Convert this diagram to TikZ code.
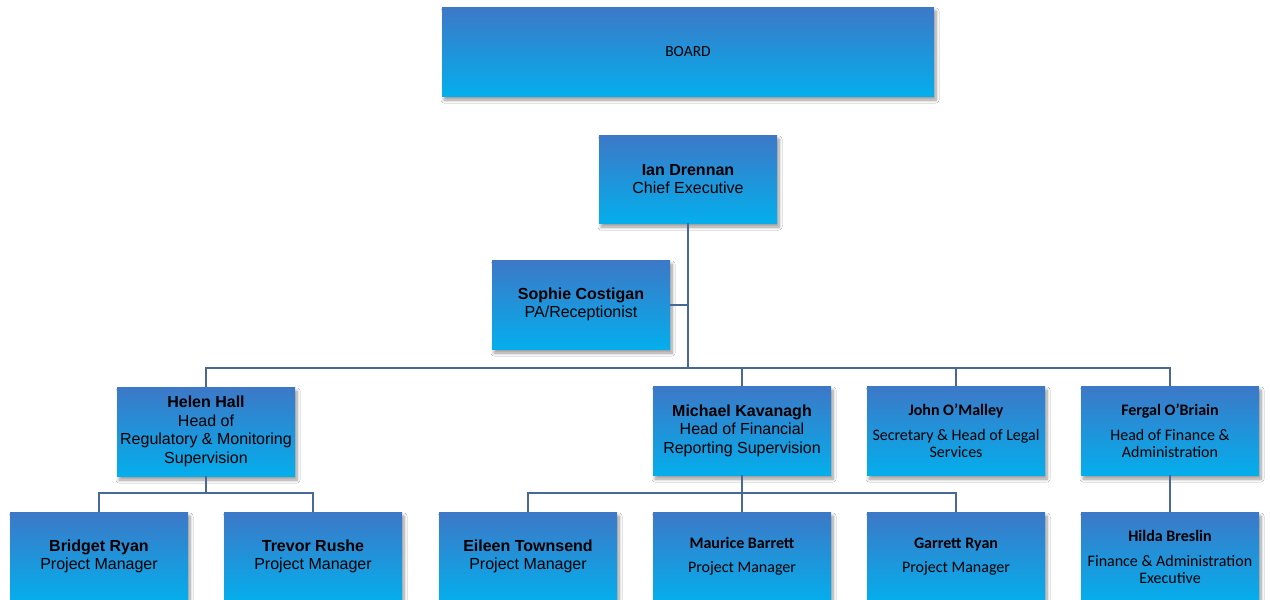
\documentclass[tikz,border=0pt]{standalone}
\usepackage{fontspec}
\setmainfont{Liberation Sans}
\newfontfamily\calibrifont{Carlito}
\usetikzlibrary{shadows.blur}
\definecolor{boxtop}{RGB}{61,120,199}
\definecolor{boxbot}{RGB}{4,174,236}
\definecolor{linkcol}{RGB}{72,104,152}
\tikzset{
  orgbox/.style={rectangle, inner sep=0pt, minimum width=178pt, minimum height=89pt,
    top color=boxtop, bottom color=boxbot, align=center, text=black,
    blur shadow={shadow blur steps=8, shadow xshift=2pt, shadow yshift=-4pt, shadow opacity=40, shadow blur radius=3pt},
    font=\fontsize{16}{18.5}\selectfont},
  calbox/.style={orgbox, font=\calibrifont\fontsize{16}{17}\selectfont},
  link/.style={draw=linkcol, line width=2pt}
}
\begin{document}
\begin{tikzpicture}[x=1pt,y=-1pt]
\useasboundingbox (0,0) rectangle (1270,600);
\clip (0,0) rectangle (1270,600);
\fill[white] (0,0) rectangle (1270,600);
% nodes
\node[orgbox, minimum width=492pt, font=\calibrifont\fontsize{15.5}{17}\selectfont] (board) at (688,51.5) {BOARD};
\node[orgbox, minimum height=88pt] (ian) at (688,179) {\textbf{Ian Drennan}\\Chief Executive};
\node[orgbox] (sophie) at (581,304.5) {\textbf{Sophie Costigan}\\PA/Receptionist};
\node[orgbox] (helen) at (206,431.5) {\textbf{Helen Hall}\\Head of\\Regulatory \& Monitoring\\Supervision};
\node[orgbox] (michael) at (742,430.5) {\textbf{Michael Kavanagh}\\Head of Financial\\Reporting Supervision};
\node[calbox] (john) at (956,430.5) {\textbf{John O’Malley}\\[8pt]Secretary \& Head of Legal\\Services};
\node[calbox] (fergal) at (1170,430.5) {\textbf{Fergal O’Briain}\\[8pt]Head of Finance \&\\Administration};
\node[orgbox] (bridget) at (99,556.5) {\textbf{Bridget Ryan}\\Project Manager};
\node[orgbox] (trevor) at (313,556.5) {\textbf{Trevor Rushe}\\Project Manager};
\node[orgbox] (eileen) at (528,556.5) {\textbf{Eileen Townsend}\\Project Manager};
\node[calbox] (maurice) at (742,556.5) {\textbf{Maurice Barrett}\\[7pt]Project Manager};
\node[calbox] (garrett) at (956,556.5) {\textbf{Garrett Ryan}\\[7pt]Project Manager};
\node[calbox] (hilda) at (1170,556.5) {\textbf{Hilda Breslin}\\[8pt]Finance \& Administration\\Executive};
% connectors
\coordinate (bus) at (688,368);
\coordinate (hbus) at (206,493);
\coordinate (mbus) at (742,493);
\draw[link] (ian.south) -- (bus);
\draw[link] (sophie.east) -- (sophie.east -| ian.south);
\draw[link] (helen.north) |- (bus) -| (fergal.north);
\draw[link] (michael.north) -- (michael.north |- bus);
\draw[link] (john.north) -- (john.north |- bus);
\draw[link] (helen.south) -- (hbus);
\draw[link] (bridget.north) |- (hbus) -| (trevor.north);
\draw[link] (michael.south) -- (maurice.north);
\draw[link] (eileen.north) |- (mbus) -| (garrett.north);
\draw[link] (fergal.south) -- (hilda.north);
\end{tikzpicture}
\end{document}
